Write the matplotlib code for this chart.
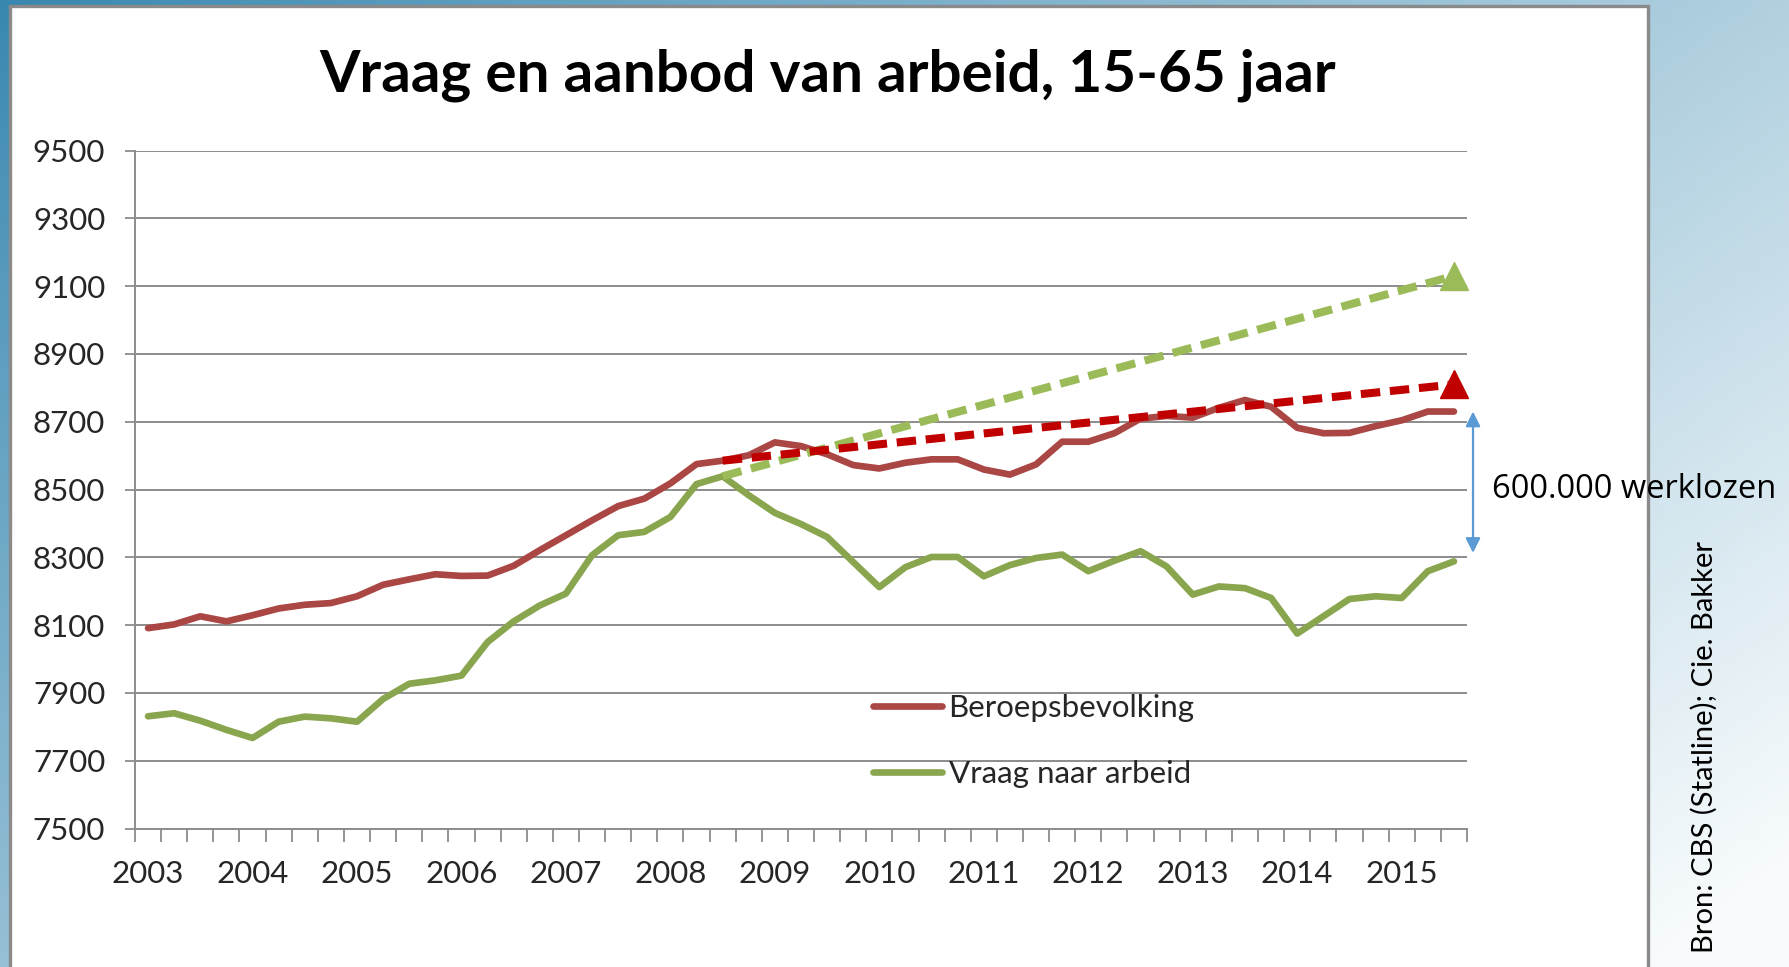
import numpy as np
import matplotlib
matplotlib.use("Agg")
import matplotlib.pyplot as plt
from matplotlib.patches import Rectangle

# ---------------- data ----------------
years = [str(y) for y in range(2003, 2016)]
quarters = list(range(51))  # 2003Q1 .. 2015Q3

beroepsbevolking = [8091, 8102, 8126, 8111, 8129, 8149, 8160, 8165, 8185, 8219,
                    8235, 8250, 8245, 8246, 8275, 8321, 8365, 8409, 8451, 8473,
                    8518, 8575, 8585, 8601, 8639, 8628, 8604, 8572, 8562, 8579,
                    8589, 8589, 8559, 8544, 8574, 8641, 8641, 8666, 8709, 8717,
                    8712, 8741, 8764, 8744, 8682, 8666, 8667, 8687, 8704, 8730,
                    8730]
vraag = [7831, 7840, 7818, 7791, 7767, 7815, 7830, 7825, 7815, 7882,
         7927, 7937, 7951, 8050, 8111, 8158, 8193, 8306, 8365, 8375,
         8419, 8516, 8539, 8483, 8431, 8398, 8360, 8286, 8212, 8271,
         8301, 8301, 8244, 8277, 8298, 8308, 8259, 8290, 8318, 8273,
         8190, 8214, 8209, 8180, 8075, 8126, 8177, 8185, 8180, 8259,
         8288]

trend_x = [22, 50]
trend_aanbod = [8585, 8810]
trend_vraag = [8539, 9130]

gap_bottom = 8313  # lower end of the "werklozen" arrow

title = "Vraag en aanbod van arbeid, 15-65 jaar"
legend_labels = ["Beroepsbevolking", "Vraag naar arbeid"]
gap_label = "600.000 werklozen"
source = "Bron: CBS (Statline); Cie. Bakker"

# ---------------- figure ----------------
W, H = 1790, 967
fig = plt.figure(figsize=(W / 100, H / 100), dpi=100)

# gradient background
bg = fig.add_axes([0, 0, 1, 1], zorder=-10)
xs = np.linspace(0, 1, 300)
ys = np.linspace(0, 1, 160)
X, Y = np.meshgrid(xs, ys)
s = np.clip(0.6 * X + 0.45 * Y, 0, 1) ** 0.9
dark = np.array([0.22, 0.53, 0.69])
light = np.array([0.97, 0.985, 0.99])
img = dark[None, None, :] * (1 - s[..., None]) + light[None, None, :] * s[..., None]
bg.imshow(img, extent=[0, 1, 0, 1], origin="upper", aspect="auto")
bg.set_xlim(0, 1)
bg.set_ylim(0, 1)
bg.axis("off")

# white panel
panel = Rectangle((10 / W, -0.05), (1648 - 10) / W, 1.05 - 6 / H,
                  transform=fig.transFigure, facecolor="white",
                  edgecolor="#8a8a8a", linewidth=2.4, zorder=-5)
fig.patches.append(panel)

# main axes
left, right = 135 / W, 1467 / W
top, bottom = 1 - 150.5 / H, 1 - 828.5 / H
ax = fig.add_axes([left, bottom, right - left, top - bottom])
ax.set_facecolor("none")

FONT = "Lato"
FS = 22.5
grid_c = "#8c8c8c"
LW = 4.8

ax.plot(quarters, beroepsbevolking, color="#AA4643", lw=LW,
        solid_joinstyle="round", solid_capstyle="round", zorder=3)
ax.plot(quarters, vraag, color="#89A54E", lw=LW,
        solid_joinstyle="round", solid_capstyle="round", zorder=3)

plt.rcParams["lines.scale_dashes"] = False
ax.plot(trend_x, trend_vraag, color="#9BBB59", lw=5.8, dashes=(14, 7), zorder=4)
ax.plot(trend_x[-1:], trend_vraag[-1:], marker="^", ms=20, color="#9BBB59",
        ls="none", zorder=5, clip_on=False)
ax.plot(trend_x, trend_aanbod, color="#C00000", lw=5.8, dashes=(14, 7), zorder=5)
ax.plot(trend_x[-1:], trend_aanbod[-1:], marker="^", ms=20, color="#C00000",
        ls="none", zorder=6, clip_on=False)

ax.set_xlim(-0.5, len(quarters) - 0.5)
ax.set_ylim(7500, 9500)

# y axis
ax.set_yticks(np.arange(7500, 9501, 200))
ax.set_yticklabels([str(v) for v in range(7500, 9501, 200)],
                   fontsize=FS, family=FONT, color="#262626")
ax.yaxis.grid(True, color=grid_c, lw=1.4, zorder=0)
ax.set_axisbelow(True)

# x axis: tick marks at category boundaries, labels every 4 quarters
ax.set_xticks(np.arange(-0.5, len(quarters), 1.0))
ax.set_xticklabels([])
ax.set_xticks(np.arange(0, len(quarters), 4), minor=True)
ax.set_xticklabels(years, minor=True, fontsize=FS, family=FONT, color="#262626")
ax.tick_params(axis="x", which="major", length=9, width=1.3, color=grid_c,
               direction="out")
ax.tick_params(axis="x", which="minor", length=0, pad=23)
ax.tick_params(axis="y", length=7, width=1.3, color=grid_c, pad=14.5)

for side in ("top", "right"):
    ax.spines[side].set_visible(False)
for side in ("left", "bottom"):
    ax.spines[side].set_color(grid_c)
    ax.spines[side].set_linewidth(1.4)

# legend
h1, = ax.plot([], [], color="#AA4643", lw=LW, solid_capstyle="round")
h2, = ax.plot([], [], color="#89A54E", lw=LW, solid_capstyle="round")
leg = ax.legend([h1, h2], legend_labels, loc="center left",
                bbox_to_anchor=(0.554, 0.129), frameon=False,
                prop={"family": FONT, "size": FS}, handlelength=2.2,
                handletextpad=0.22, labelspacing=1.2, borderpad=0,
                borderaxespad=0)
for t in leg.get_texts():
    t.set_color("#262626")

# arrow + label
arrow_x = len(quarters) - 0.27
ax.annotate("", xy=(arrow_x, beroepsbevolking[-1]), xytext=(arrow_x, gap_bottom),
            arrowprops=dict(arrowstyle="<|-|>", color="#5B9BD5", lw=1.6,
                            mutation_scale=22, shrinkA=0, shrinkB=0),
            annotation_clip=False, zorder=6)
ax.text(len(quarters) + 0.45, 8500, gap_label, fontsize=23.5,
        family="Open Sans", color="black", ha="left", va="center",
        clip_on=False, zorder=10)

# title
fig.text(828 / W, 1 - 92 / H, title, fontsize=42, family=FONT,
         fontweight="bold", ha="center", va="baseline", color="black")

# source
fig.text(1704 / W, 1 - 953 / H, source, rotation=90, fontsize=21,
         family=FONT, ha="center", va="bottom", color="black")

fig.savefig("out.png", dpi=100)
